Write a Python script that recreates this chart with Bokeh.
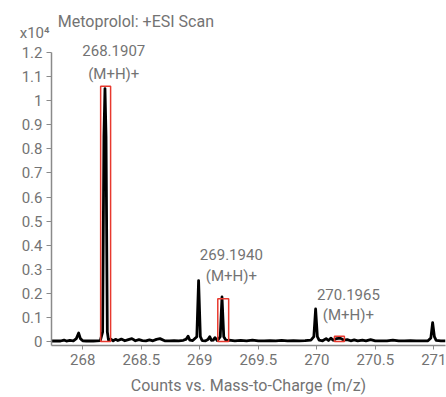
from bokeh.plotting import figure
from bokeh.models import Range1d, FixedTicker, Label, LinearAxis
from bokeh.embed import file_html
from bokeh.resources import INLINE

# spectrum profile (m/z, counts x10^4)
mz = [267.735, 267.78, 267.81, 267.84, 267.86, 267.89, 267.92, 267.945, 267.965, 267.98, 268.00,
      268.03, 268.06, 268.09, 268.12, 268.15, 268.17, 268.181, 268.19, 268.199, 268.21, 268.22,
      268.24, 268.26, 268.28, 268.30, 268.33, 268.36, 268.39, 268.42, 268.45, 268.48, 268.51,
      268.54, 268.57, 268.60, 268.63, 268.66, 268.70, 268.74, 268.78, 268.82, 268.86, 268.885,
      268.90, 268.915, 268.94, 268.975, 268.99, 269.005, 269.02, 269.05, 269.07, 269.085, 269.10,
      269.115, 269.13, 269.15, 269.175, 269.19, 269.205, 269.225, 269.25, 269.30, 269.35, 269.40,
      269.45, 269.50, 269.55, 269.60, 269.65, 269.70, 269.75, 269.80, 269.85, 269.90, 269.95,
      269.975, 269.99, 270.005, 270.02, 270.05, 270.08, 270.10, 270.12, 270.14, 270.17, 270.20,
      270.23, 270.26, 270.29, 270.32, 270.35, 270.39, 270.42, 270.46, 270.50, 270.55, 270.60,
      270.65, 270.70, 270.75, 270.80, 270.85, 270.90, 270.95, 270.975, 270.99, 271.005, 271.02,
      271.06, 271.10]
counts = [0.002, 0.003, 0.002, 0.006, 0.002, 0.005, 0.003, 0.012, 0.035, 0.012, 0.003,
          0.002, 0.003, 0.002, 0.003, 0.004, 0.04, 0.85, 1.05, 0.85, 0.04, 0.006,
          0.010, 0.003, 0.009, 0.004, 0.010, 0.003, 0.008, 0.012, 0.003, 0.008, 0.004,
          0.003, 0.007, 0.003, 0.009, 0.012, 0.003, 0.003, 0.004, 0.003, 0.005, 0.010,
          0.022, 0.006, 0.004, 0.02, 0.253, 0.02, 0.004, 0.003, 0.008, 0.02, 0.005,
          0.006, 0.016, 0.004, 0.02, 0.185, 0.02, 0.004, 0.006, 0.003, 0.005, 0.003,
          0.006, 0.003, 0.003, 0.004, 0.003, 0.005, 0.003, 0.004, 0.003, 0.004, 0.006,
          0.02, 0.135, 0.02, 0.006, 0.003, 0.012, 0.004, 0.014, 0.005, 0.012, 0.014,
          0.006, 0.008, 0.003, 0.007, 0.003, 0.006, 0.003, 0.008, 0.003, 0.003, 0.003,
          0.006, 0.003, 0.003, 0.004, 0.003, 0.003, 0.003, 0.015, 0.078, 0.02, 0.005,
          0.003, 0.003]

# highlighted isotope boxes
box_left = [268.153, 269.154, 270.151]
box_right = [268.238, 269.247, 270.236]
box_top = [1.06, 0.178, 0.022]

# peak annotations
peak_labels = ["268.1907", "269.1940", "270.1965"]
peak_ions = ["(M+H)+", "(M+H)+", "(M+H)+"]
label_x = [268.265, 269.27, 270.27]
label_y = [1.207, 0.36, 0.197]
ion_y = [1.11, 0.274, 0.11]

x_ticks = [268, 268.5, 269, 269.5, 270, 270.5, 271]
x_tick_labels = ["268", "268.5", "269", "269.5", "270", "270.5", "271"]
y_ticks = [0, 0.1, 0.2, 0.3, 0.4, 0.5, 0.6, 0.7, 0.8, 0.9, 1.0, 1.1, 1.2]
y_tick_labels = ["0", "0.1", "0.2", "0.3", "0.4", "0.5", "0.6", "0.7", "0.8", "0.9", "1", "1.1", "1.2"]
scale_label = "x10\u2074"
scale_y = 1.283

FONT = "Roboto"
TXT = "#737373"
AX = "#8a8a8a"
Y0 = -0.0166

p = figure(width=446, height=397, output_backend="svg", toolbar_location=None,
           x_range=Range1d(267.733, 271.1), y_range=Range1d(Y0, 1.3744),
           min_border_left=51, min_border_top=10, min_border_right=1, min_border_bottom=52)
p.outline_line_color = None
p.xgrid.visible = False
p.ygrid.visible = False
p.background_fill_color = "white"
p.border_fill_color = "white"

p.line(mz, counts, line_color="black", line_width=2.8, line_join="round")
p.quad(left=box_left, right=box_right, bottom=[0] * len(box_left), top=box_top,
       fill_color=None, line_color="#e8392e", line_width=1.5)

for ax, ticks, labs in ((p.xaxis[0], x_ticks, x_tick_labels), (p.yaxis[0], y_ticks, y_tick_labels)):
    ax.ticker = FixedTicker(ticks=ticks)
    ax.major_label_overrides = {t: l for t, l in zip(ticks, labs)}
    ax.minor_tick_line_color = None
    ax.major_tick_in = 0
    ax.axis_line_color = AX
    ax.major_tick_line_color = AX
    ax.axis_line_width = 1.5
    ax.major_label_text_font = FONT
    ax.major_label_text_font_size = "15px"
    ax.major_label_text_color = TXT

p.yaxis.bounds = (Y0, 1.2)
p.yaxis.major_tick_out = 5
p.yaxis.major_label_standoff = 4
p.xaxis.major_tick_out = 4
p.xaxis.major_label_standoff = 4
p.xaxis.axis_label = "Counts vs. Mass-to-Charge (m/z)"
p.xaxis.axis_label_text_font = FONT
p.xaxis.axis_label_text_font_size = "16px"
p.xaxis.axis_label_text_font_style = "normal"
p.xaxis.axis_label_text_color = TXT
p.xaxis.axis_label_standoff = 8

# scale factor shown as a label on an extra, line-less left axis
scale_axis = LinearAxis(ticker=FixedTicker(ticks=[scale_y]),
                        major_label_overrides={scale_y: scale_label},
                        axis_line_color=None, major_tick_line_color=None,
                        minor_tick_line_color=None, major_tick_out=0, major_tick_in=0,
                        major_label_standoff=-31, major_label_text_font=FONT,
                        major_label_text_font_size="15px", major_label_text_color=TXT)
p.add_layout(scale_axis, "left")

def add_label(x, y, text, size="15px", align="center"):
    p.add_layout(Label(x=x, y=y, text=text, text_align=align, text_baseline="middle",
                       text_font=FONT, text_font_size=size, text_color=TXT))

for lx, ly, iy, t1, t2 in zip(label_x, label_y, ion_y, peak_labels, peak_ions):
    add_label(lx, ly, t1)
    add_label(lx, iy, t2)

add_label(267.787, 1.329, "Metoprolol: +ESI Scan", size="16px", align="left")

open("out.html", "w").write(file_html(p, INLINE))
